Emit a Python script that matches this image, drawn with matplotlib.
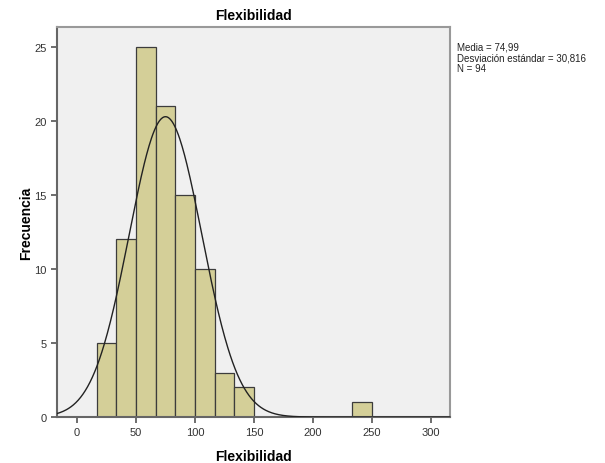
import numpy as np
import matplotlib.pyplot as plt

# histogram (bin width 16.67)
bin_left = [16.67, 33.33, 50.0, 66.67, 83.33, 100.0, 116.67, 133.33, 233.33]
counts = [5, 12, 25, 21, 15, 10, 3, 2, 1]
bin_width = 16.667
media = 74.99
desv = 30.816
n = 94
xticks = [0, 50, 100, 150, 200, 250, 300]
yticks = [0, 5, 10, 15, 20, 25]

plt.rcParams['font.family'] = ['Liberation Sans', 'DejaVu Sans']

fig = plt.figure(figsize=(6.05, 4.64), dpi=100)
ax = fig.add_axes([0.094, 0.099, 0.650, 0.841])
ax.set_facecolor('#f0f0f0')

ax.bar(bin_left, counts, width=bin_width, align='edge',
       color='#d4cf98', edgecolor='#3c3c3c', linewidth=0.9, zorder=2)

x = np.linspace(-17, 316, 500)
y = n * bin_width * np.exp(-0.5 * ((x - media) / desv) ** 2) / (desv * np.sqrt(2 * np.pi))
ax.plot(x, y, color='#222222', linewidth=1.0, zorder=3)

ax.set_xlim(-17, 316)
ax.set_ylim(0, 26.35)
ax.set_xticks(xticks)
ax.set_yticks(yticks)
ax.tick_params(direction='out', length=4, width=1.2, color='#555555',
               labelsize=8, labelcolor='#333333')
for s in ['top', 'right']:
    ax.spines[s].set_color('#999999')
    ax.spines[s].set_linewidth(1.5)
for s in ['left', 'bottom']:
    ax.spines[s].set_color('#666666')
    ax.spines[s].set_linewidth(1.5)

ax.set_title('Flexibilidad', fontsize=10, fontweight='bold', pad=6)
ax.set_xlabel('Flexibilidad', fontsize=10, fontweight='bold', labelpad=8)
ax.set_ylabel('Frecuencia', fontsize=10, fontweight='bold', labelpad=1)

fig.text(0.756, 0.908, 'Media = 74,99\nDesviación estándar = 30,816\nN = 94',
         fontsize=7.0, va='top', ha='left', linespacing=1.08, color='#222222')

fig.savefig('out.png', dpi=100)
